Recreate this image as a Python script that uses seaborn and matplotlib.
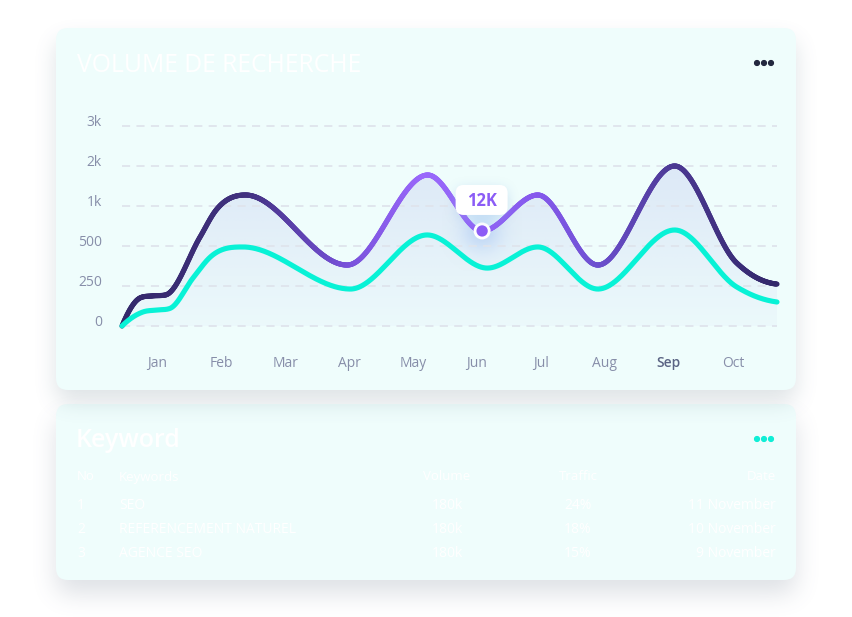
import numpy as np
import pandas as pd
import matplotlib
matplotlib.use("Agg")
import matplotlib.pyplot as plt
import seaborn as sns
from matplotlib.patches import FancyBboxPatch, Circle
from matplotlib.collections import LineCollection
from matplotlib.colors import LinearSegmentedColormap, to_rgb

# ---------------- data ----------------
months = ["Jan", "Feb", "Mar", "Apr", "May", "Jun", "Jul", "Aug", "Sep", "Oct"]
y_levels = [0, 250, 500, 1000, 2000, 3000]
y_labels = ["0", "250", "500", "1k", "2k", "3k"]

# points (x in month positions, Jan = 0)
dark_x = [-0.55, -0.27, -0.08, 0.13, 0.67, 0.91, 1.38, 2.97, 4.23, 5.08, 5.95, 6.89, 8.09, 9.06, 9.38, 9.69]
dark_v = [0, 175, 188, 194, 612, 938, 1275, 381, 1775, 688, 1275, 381, 2000, 394, 300, 262]
teal_x = [-0.55, -0.22, 0.0, 0.20, 0.56, 0.83, 1.34, 3.02, 4.22, 5.16, 5.95, 6.89, 8.09, 9.06, 9.38, 9.69]
teal_v = [0, 88, 100, 110, 300, 431, 494, 231, 638, 362, 494, 231, 700, 244, 181, 150]

highlight_index = 9          # Jun trough of the dark series
highlight_text = "12K"
highlight_month = "Sep"

table_cols = ["No", "Keywords", "Volume", "Traffic", "Date"]
table_no = ["1", "2", "3"]
table_kw = ["SEO", "REFERENCEMENT NATUREL", "AGENCE SEO"]
table_vol = ["180k", "180k", "180k"]
table_traffic = ["24%", "18%", "15%"]
table_date = ["11 November", "10 November", "9 November"]

# ---------------- helpers ----------------
lv = np.array(y_levels, float)
li = np.arange(len(y_levels), dtype=float)


def fwd(v):
    v = np.asarray(v, float)
    out = np.interp(v, lv, li)
    out = np.where(v < 0, v / 250.0, out)
    out = np.where(v > 3000, 5 + (v - 3000) / 1000.0, out)
    return out


def inv(i):
    i = np.asarray(i, float)
    out = np.interp(i, li, lv)
    out = np.where(i < 0, i * 250.0, out)
    out = np.where(i > 5, 3000 + (i - 5) * 1000.0, out)
    return out


def smooth(x, y, xs):
    """Monotone cubic Hermite with centred slopes (flat at extrema)."""
    x = np.asarray(x, float); y = np.asarray(y, float)
    h = np.diff(x); d = np.diff(y) / h
    n = len(x); m = np.zeros(n)
    for k in range(1, n - 1):
        if d[k - 1] * d[k] > 0:
            s = (h[k] * d[k - 1] + h[k - 1] * d[k]) / (h[k - 1] + h[k])
            lim = 3 * min(abs(d[k - 1]), abs(d[k]))
            m[k] = np.sign(s) * min(abs(s), lim)

    def endslope(h0, h1, d0, d1):
        s = ((2 * h0 + h1) * d0 - h0 * d1) / (h0 + h1)
        if np.sign(s) != np.sign(d0):
            s = 0.0
        elif np.sign(d0) != np.sign(d1) and abs(s) > abs(3 * d0):
            s = 3 * d0
        return s

    m[0] = endslope(h[0], h[1], d[0], d[1])
    m[-1] = endslope(h[-1], h[-2], d[-1], d[-2])
    idx = np.clip(np.searchsorted(x, xs) - 1, 0, n - 2)
    t = (xs - x[idx]) / h[idx]
    h00 = 2 * t**3 - 3 * t**2 + 1
    h10 = t**3 - 2 * t**2 + t
    h01 = -2 * t**3 + 3 * t**2
    h11 = t**3 - t**2
    return h00 * y[idx] + h10 * h[idx] * m[idx] + h01 * y[idx + 1] + h11 * h[idx] * m[idx + 1]


def box1d(a, r, axis):
    a = np.moveaxis(a, axis, 0)
    p = np.pad(a, ((r + 1, r), (0, 0)))
    cs = np.cumsum(p, axis=0)
    out = (cs[2 * r + 1:] - cs[:-2 * r - 1]) / (2 * r + 1)
    return np.moveaxis(out, 0, axis)


def blur(a, r):
    for _ in range(3):
        a = box1d(a, r, 0)
        a = box1d(a, r, 1)
    return a


W, H = 852, 617
YY, XX = np.mgrid[0:H, 0:W] + 0.5


def rrect_mask(x0, y0, x1, y1, r):
    dx = np.maximum(np.maximum(x0 + r - XX, XX - (x1 - r)), 0)
    dy = np.maximum(np.maximum(y0 + r - YY, YY - (y1 - r)), 0)
    inside = (XX >= x0) & (XX <= x1) & (YY >= y0) & (YY <= y1)
    return (inside & (dx**2 + dy**2 <= r**2)).astype(float)


def shadow_img(mask, color, amax):
    rgba = np.zeros((H, W, 4))
    rgba[..., :3] = to_rgb(color)
    rgba[..., 3] = np.clip(mask, 0, 1) * amax
    return rgba


# ---------------- figure ----------------
sns.set_theme(style="white")
plt.rcParams["font.family"] = ["Open Sans", "DejaVu Sans"]

fig = plt.figure(figsize=(W / 100, H / 100), dpi=100, facecolor="white")

ax_bg = fig.add_axes([0, 0, 1, 1], zorder=0)
ax_bg.set_xlim(0, W); ax_bg.set_ylim(H, 0); ax_bg.axis("off")

card_bg = "#effdfc"
c1 = (56, 28, 796, 390)
c2 = (56, 404, 796, 580)

# card 2 shadow + card
m2 = blur(rrect_mask(c2[0], c2[1] + 14, c2[2], c2[3] + 14, 12), 11)
ax_bg.imshow(shadow_img(m2, "#5d6b82", 0.20), extent=(0, W, H, 0), zorder=1, interpolation="bilinear")
ax_bg.add_patch(FancyBboxPatch((c2[0], c2[1]), c2[2] - c2[0], c2[3] - c2[1],
                               boxstyle="round,pad=0,rounding_size=12", fc=card_bg, ec="none", zorder=2))
# card 1 shadow + card
m1 = blur(rrect_mask(c1[0], c1[1] + 12, c1[2], c1[3] + 12, 12), 10)
ax_bg.imshow(shadow_img(m1, "#5a7480", 0.20), extent=(0, W, H, 0), zorder=3, interpolation="bilinear")
ax_bg.add_patch(FancyBboxPatch((c1[0], c1[1]), c1[2] - c1[0], c1[3] - c1[1],
                               boxstyle="round,pad=0,rounding_size=12", fc=card_bg, ec="none", zorder=4))
ax_bg.set_xlim(0, W); ax_bg.set_ylim(H, 0)

# titles and menus
ax_bg.text(77, 72, "VOLUME DE RECHERCHE", color="white", fontsize=17.8, va="baseline", ha="left", zorder=6)
for dx in (-7, 0, 7):
    ax_bg.add_patch(Circle((764 + dx, 63), 2.4, color="#23283f", zorder=6))
ax_bg.text(76, 447, "Keyword", color="white", fontsize=18, fontweight="semibold", va="baseline", ha="left", zorder=6)
for dx in (-7, 0, 7):
    ax_bg.add_patch(Circle((764 + dx, 439), 2.4, color="#10eed6", zorder=6))

# table
hdr_y = 480.5
row_y = [509, 533, 557]
tc = "white"
ax_bg.text(77, hdr_y, table_cols[0], color=tc, fontsize=9.5, va="baseline", ha="left", zorder=6)
ax_bg.text(119, hdr_y, table_cols[1], color=tc, fontsize=9.5, va="baseline", ha="left", zorder=6)
ax_bg.text(447, hdr_y, table_cols[2], color=tc, fontsize=9.5, va="baseline", ha="center", zorder=6)
ax_bg.text(578, hdr_y, table_cols[3], color=tc, fontsize=9.5, va="baseline", ha="center", zorder=6)
ax_bg.text(776, hdr_y, table_cols[4], color=tc, fontsize=9.5, va="baseline", ha="right", zorder=6)
for i, yy in enumerate(row_y):
    ax_bg.text(77, yy, table_no[i], color=tc, fontsize=10, va="baseline", ha="left", zorder=6)
    ax_bg.text(119, yy, table_kw[i], color=tc, fontsize=10, va="baseline", ha="left", zorder=6)
    ax_bg.text(447, yy, table_vol[i], color=tc, fontsize=10, va="baseline", ha="center", zorder=6)
    ax_bg.text(578, yy, table_traffic[i], color=tc, fontsize=10, va="baseline", ha="center", zorder=6)
    ax_bg.text(776, yy, table_date[i], color=tc, fontsize=10, va="baseline", ha="right", zorder=6)

# ---------------- chart axes ----------------
ax_l, ax_r, ax_t, ax_b = 122, 777, 124, 330
ax = fig.add_axes([ax_l / W, (H - ax_b) / H, (ax_r - ax_l) / W, (ax_b - ax_t) / H], zorder=1)
ax.set_facecolor("none")
ax.set_yscale("function", functions=(fwd, inv))

xs = np.linspace(dark_x[0], dark_x[-1], 900)
dark_s = inv(smooth(dark_x, fwd(dark_v), xs))
teal_s = inv(smooth(teal_x, fwd(teal_v), xs))

df = pd.concat([
    pd.DataFrame({"month": xs, "volume": dark_s, "series": "dark"}),
    pd.DataFrame({"month": xs, "volume": teal_s, "series": "teal"}),
])

# gradient fill under the dark curve
poly = ax.fill_between(xs, 0, dark_s, color="none", lw=0)
grad = np.zeros((200, 2, 4))
grad[..., :3] = to_rgb("#aeb4ea")
aa = np.linspace(0.34, 0.05, 200)
grad[..., 3] = aa[:, None]
im = ax.imshow(grad, extent=(0, 1, 0, 1), transform=ax.transAxes, aspect="auto", zorder=0.5,
               interpolation="bilinear")
im.set_clip_path(poly.get_paths()[0], poly.get_transform())

sns.lineplot(data=df, x="month", y="volume", hue="series", palette={"dark": "#3f2f80", "teal": "#08f2d6"},
             hue_order=["dark", "teal"], linewidth=3.7, legend=False, sort=False, estimator=None, ax=ax)

dark_line, teal_line = ax.lines[0], ax.lines[1]
teal_line.set_solid_capstyle("round"); teal_line.set_clip_on(False); teal_line.set_zorder(3)

# replace dark line by a gradient-coloured collection
dx_, dy_ = dark_line.get_data()
pts = np.column_stack([dx_, dy_])
segs = np.stack([pts[:-1], pts[1:]], axis=1)
cmap = LinearSegmentedColormap.from_list("dk", [
    (0.0, "#33286a"), (0.19, "#41317f"), (0.34, "#7650d8"), (0.46, "#9a68fb"),
    (0.55, "#9063f6"), (0.64, "#8558ec"), (0.73, "#6c4fcf"), (0.85, "#4b3892"), (1.0, "#32276a")])
mid = (dx_[:-1] + dx_[1:]) / 2
norm = (mid - dark_x[0]) / (dark_x[-1] - dark_x[0])
lc = LineCollection(segs, colors=cmap(norm), linewidths=3.7, capstyle="round", joinstyle="round",
                    zorder=2.5, clip_on=False)
dark_line.remove()
ax.add_collection(lc)

# highlighted point
hx, hv = dark_x[highlight_index], dark_v[highlight_index]
sns.scatterplot(x=[hx], y=[hv], s=150, color="white", edgecolor="none", zorder=5, ax=ax, legend=False)
sns.scatterplot(x=[hx], y=[hv], s=66, color="#8c5cf6", edgecolor="none", zorder=6, ax=ax, legend=False)
for c in ax.collections[-2:]:
    c.set_clip_on(False)

# axes styling
ax.set_xlim(dark_x[0], dark_x[-1])
ax.set_ylim(inv(-0.1), inv(5.05))
ax.set_xticks(range(len(months)), months)
ax.set_yticks(y_levels, y_labels)
ax.set_xlabel(""); ax.set_ylabel("")
for s in ax.spines.values():
    s.set_visible(False)
ax.grid(axis="y", color="#dfe4ec", linewidth=1.3, linestyle=(0, (4.5, 3.5)))
ax.grid(axis="x", visible=False)
ax.set_axisbelow(True)
ax.tick_params(axis="x", length=0, pad=18.5, labelsize=10, labelcolor="#878ea9")
ax.tick_params(axis="y", length=0, pad=14.5, labelsize=10, labelcolor="#878ea9")
for lbl in ax.get_yticklabels():
    lbl.set_va("baseline")
for lbl in ax.get_xticklabels():
    if lbl.get_text() == highlight_month:
        lbl.set_color("#5b6484"); lbl.set_fontweight("semibold")

# ---------------- glow + tooltip ----------------
fig.canvas.draw()
px, py = ax.transData.transform((hx, float(hv)))
mx, my = px, H - py

gr = 40
gy, gx = np.mgrid[-gr:gr + 1, -gr:gr + 1]
glow = np.zeros((2 * gr + 1, 2 * gr + 1, 4))
glow[..., :3] = to_rgb("#a8cbf6")
glow[..., 3] = 0.6 * np.exp(-(gx**2 + gy**2) / (2 * 14.0**2))
ax_bg.imshow(glow, extent=(mx - gr, mx + gr, my + gr, my - gr), zorder=5, interpolation="bilinear")
ax_bg.set_xlim(0, W); ax_bg.set_ylim(H, 0)

ax_top = fig.add_axes([0, 0, 1, 1], zorder=3)
ax_top.set_xlim(0, W); ax_top.set_ylim(H, 0); ax_top.axis("off"); ax_top.set_facecolor("none")
bw, bh = 52, 30
bx, by = mx - 0.5, my - 31
tsh = blur(rrect_mask(bx - bw / 2, by - bh / 2 + 3, bx + bw / 2, by + bh / 2 + 3, 8), 5)
ax_top.imshow(shadow_img(tsh, "#8fb4e6", 0.35), extent=(0, W, H, 0), zorder=1, interpolation="bilinear")
ax_top.add_patch(FancyBboxPatch((bx - bw / 2, by - bh / 2), bw, bh, boxstyle="round,pad=0,rounding_size=8",
                                fc="white", ec="none", zorder=2))
ax_top.text(bx, by + 1, highlight_text, color="#8b5cf6", fontsize=12, fontweight="bold",
            ha="center", va="center", zorder=3)
ax_top.set_xlim(0, W); ax_top.set_ylim(H, 0)

fig.savefig("out.png", dpi=100, facecolor="white")
